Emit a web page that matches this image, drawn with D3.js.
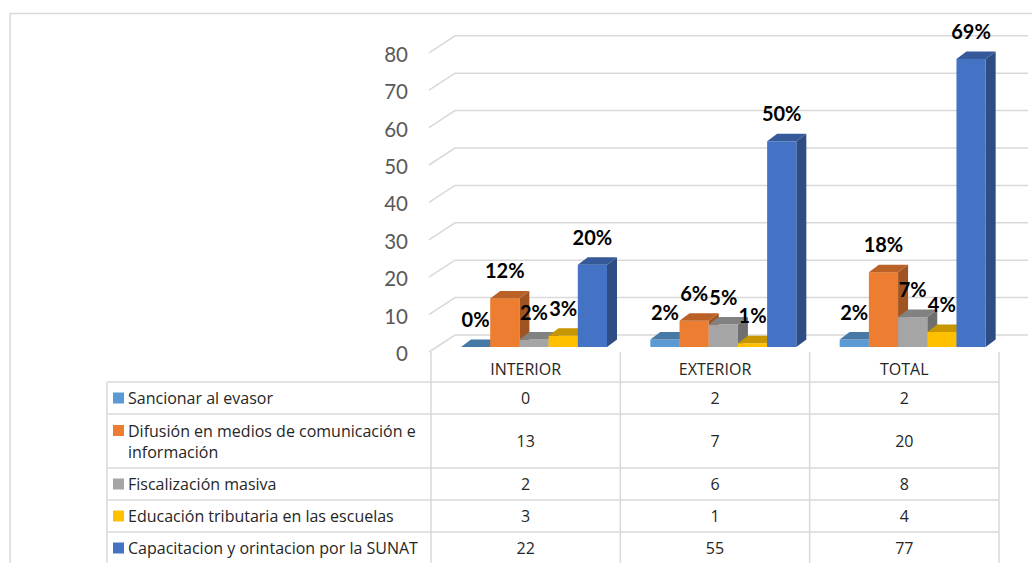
<!DOCTYPE html>
<html><head><meta charset="utf-8">
<script src="https://cdn.jsdelivr.net/npm/d3@7"></script>
<style>html,body{margin:0;padding:0;background:#fff;overflow:hidden}</style>
</head><body><svg id="c" width="1032" height="563"></svg>
<script>
const categories = ["INTERIOR", "EXTERIOR", "TOTAL"];
const seriesNames = ["Sancionar al evasor", "Difusión en medios de comunicación e información", "Fiscalización masiva", "Educación tributaria en las escuelas", "Capacitacion y orintacion por la SUNAT"];
const sancionar = [0, 2, 2];
const difusion = [13, 7, 20];
const fiscalizacion = [2, 6, 8];
const educacion = [3, 1, 4];
const capacitacion = [22, 55, 77];
const sancionarPct = ["0%", "2%", "2%"];
const difusionPct = ["12%", "6%", "18%"];
const fiscalizacionPct = ["2%", "5%", "7%"];
const educacionPct = ["3%", "1%", "4%"];
const capacitacionPct = ["20%", "50%", "69%"];
const yTicks = [0, 10, 20, 30, 40, 50, 60, 70, 80];
const colors = ["#5B9BD5", "#ED7D31", "#A5A5A5", "#FFC000", "#4472C4"];

const series = [
  {name: seriesNames[0], values: sancionar, pct: sancionarPct, color: colors[0]},
  {name: seriesNames[1], values: difusion, pct: difusionPct, color: colors[1]},
  {name: seriesNames[2], values: fiscalizacion, pct: fiscalizacionPct, color: colors[2]},
  {name: seriesNames[3], values: educacion, pct: educacionPct, color: colors[3]},
  {name: seriesNames[4], values: capacitacion, pct: capacitacionPct, color: colors[4]}
];

const svg = d3.select("#c");
const font = "Lato, 'Open Sans', sans-serif";
const tfont = "'Open Sans', Lato, sans-serif";
const tsize = 16;
const gridC = "#d9d9d9";

// outer frame
svg.append("path").attr("d", "M10,563 V13.5 H1032").attr("fill", "none").attr("stroke", gridC).attr("stroke-width", 1.5);

const y = d3.scaleLinear().domain([0, 80]).range([347, 347 - 80 * 3.74]);
const x = d3.scaleBand().domain(categories).range([431, 999]).paddingInner(0).paddingOuter(0);
const wallDx = 26, frontOff = 5, backOff = -12;

// gridlines (3D wall + back)
const g = svg.append("g");
yTicks.forEach(v => {
  const yf = y(v) + frontOff, yb = y(v) + backOff;
  g.append("path")
    .attr("d", `M${x.range()[0] - 2},${yf} L${x.range()[0] - 2 + wallDx},${yb} H1028`)
    .attr("fill", "none").attr("stroke", gridC).attr("stroke-width", 1.5);
  g.append("text").attr("x", 408).attr("y", y(v) + 6)
    .attr("text-anchor", "end").attr("dominant-baseline", "central")
    .attr("font-family", font).attr("font-size", 20.5).attr("fill", "#595959").text(v);
});

// bars
const inner = d3.scaleBand().domain(d3.range(series.length)).range([0, 146]);
const dX = 10, dY = -7.5;
const bars = svg.append("g");
categories.forEach((cat, ci) => {
  series.forEach((s, si) => {
    const x0 = x(cat) + 30 + inner(si), w = inner.bandwidth();
    const yt = y(s.values[ci]), yb = y(0);
    const c = d3.color(s.color);
    bars.append("path").attr("d", `M${x0 + w},${yb} L${x0 + w + dX},${yb + dY} L${x0 + w + dX},${yt + dY} L${x0 + w},${yt} Z`)
      .attr("fill", c.darker(1.1));
    bars.append("rect").attr("x", x0).attr("y", yt).attr("width", w).attr("height", Math.max(0, yb - yt)).attr("fill", s.color);
    bars.append("path").attr("d", `M${x0},${yt} L${x0 + dX},${yt + dY} L${x0 + w + dX},${yt + dY} L${x0 + w},${yt} Z`)
      .attr("fill", c.darker(0.7));
  });
});
// labels
categories.forEach((cat, ci) => {
  series.forEach((s, si) => {
    const cx = x(cat) + 30 + inner(si) + inner.bandwidth() / 2;
    svg.append("text").attr("x", cx).attr("y", y(s.values[ci]) - 20)
      .attr("text-anchor", "middle").attr("font-family", font).attr("font-weight", "bold")
      .attr("font-size", 20).attr("fill", "#000").text(s.pct[ci]);
  });
});

// data table
const tbl = svg.append("g");
const rowTops = [382, 414, 468, 500, 532, 564];
const tLeft = 107, colX = [431].concat(categories.map(c => x(c) + x.bandwidth()));
colX.forEach(cx => tbl.append("line").attr("x1", cx).attr("x2", cx).attr("y1", 352).attr("y2", 564).attr("stroke", gridC).attr("stroke-width", 1.5));
tbl.append("line").attr("x1", tLeft).attr("x2", tLeft).attr("y1", 382).attr("y2", 564).attr("stroke", gridC).attr("stroke-width", 1.5);
rowTops.forEach(ry => tbl.append("line").attr("x1", tLeft).attr("x2", 999).attr("y1", ry).attr("y2", ry).attr("stroke", gridC).attr("stroke-width", 1.5));
categories.forEach(cat => tbl.append("text").attr("x", x(cat) + x.bandwidth() / 2).attr("y", 369)
  .attr("text-anchor", "middle").attr("dominant-baseline", "central")
  .attr("font-family", tfont).attr("font-size", tsize).attr("fill", "#262626").text(cat));

const labelLines = [["Sancionar al evasor"], ["Difusión en medios de comunicación e", "información"], ["Fiscalización masiva"], ["Educación tributaria en las escuelas"], ["Capacitacion y orintacion por la SUNAT"]];
series.forEach((s, si) => {
  const top = rowTops[si], bot = rowTops[si + 1], mid = (top + bot) / 2;
  const lines = labelLines[si];
  const firstY = mid - (lines.length - 1) * 10.5;
  tbl.append("rect").attr("x", 113).attr("y", firstY - 5.5).attr("width", 11).attr("height", 11).attr("fill", s.color);
  lines.forEach((ln, li) => tbl.append("text").attr("x", 128).attr("y", firstY + li * 21)
    .attr("dominant-baseline", "central").attr("font-family", tfont).attr("font-size", tsize).attr("fill", "#262626").text(ln));
  categories.forEach((cat, ci) => tbl.append("text").attr("x", x(cat) + x.bandwidth() / 2).attr("y", mid)
    .attr("text-anchor", "middle").attr("dominant-baseline", "central")
    .attr("font-family", tfont).attr("font-size", tsize).attr("fill", "#262626").text(s.values[ci]));
});
</script></body></html>
